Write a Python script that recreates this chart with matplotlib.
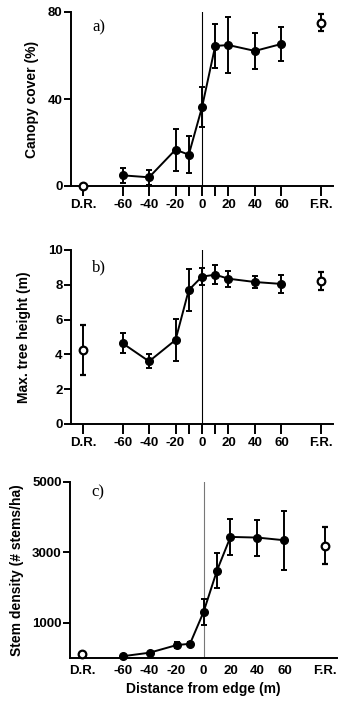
import matplotlib.pyplot as plt
import numpy as np

plt.rcParams.update({
    "font.family": ["Liberation Sans", "DejaVu Sans"],
    "font.weight": "bold",
    "axes.labelweight": "bold",
    "font.size": 9.5,
    "axes.linewidth": 1.4,
})

# --- Data ---
DR, FR = -90, 90
dist = [-60, -40, -20, -10, 0, 10, 20, 40, 60]
tick_pos = [DR, -60, -40, -20, 0, 20, 40, 60, FR]
tick_lab = ["D.R.", "-60", "-40", "-20", "0", "20", "40", "60", "F.R."]

canopy = [4.9, 4.0, 16.7, 14.4, 36.2, 64.4, 64.8, 62.1, 65.3]
canopy_err = [3.4, 3.5, 9.6, 8.5, 9.2, 10.0, 13.0, 8.2, 7.6]
canopy_dr, canopy_dr_err = 0.0, 0.0
canopy_fr, canopy_fr_err = 75.1, 3.9

height = [4.64, 3.60, 4.83, 7.70, 8.47, 8.58, 8.35, 8.16, 8.05]
height_err = [0.57, 0.40, 1.20, 1.23, 0.47, 0.55, 0.46, 0.36, 0.53]
height_dr, height_dr_err = 4.25, 1.43
height_fr, height_fr_err = 8.24, 0.52

stems = [50, 150, 366, 404, 1303, 2485, 3440, 3421, 3345]
stems_err = [0, 0, 85, 60, 360, 510, 520, 510, 835]
stems_dr, stems_dr_err = 100, 0
stems_fr, stems_fr_err = 3194, 520

W, H = 350, 714
fig = plt.figure(figsize=(W / 100, H / 100), dpi=100)


def add_axes(left, right, top, bottom):
    return fig.add_axes([left / W, 1 - bottom / H, (right - left) / W, (bottom - top) / H])


def panel(ax, y, yerr, ydr, ydr_err, yfr, yfr_err, ylim, yticks, ylabel, letter,
          letter_y, label_x, minor=True, vcolor="black"):
    ax.axvline(0, color=vcolor, lw=0.8, zorder=1)
    ax.errorbar(dist, y, yerr=yerr, color="black", marker="o", ms=5.5, lw=1.4,
                capsize=2.5, elinewidth=1.4, capthick=1.4, zorder=3, clip_on=False)
    for xv, yv, ev in [(DR, ydr, ydr_err), (FR, yfr, yfr_err)]:
        ax.errorbar([xv], [yv], yerr=[ev], color="black", marker="o", ms=5.5,
                    mfc="white", mew=1.6, capsize=2.5, elinewidth=1.4,
                    capthick=1.4, zorder=3, clip_on=False)
    ax.set_xlim(-99, 99)
    ax.set_ylim(*ylim)
    ax.set_yticks(yticks)
    ax.set_xticks(tick_pos)
    ax.set_xticklabels(tick_lab)
    if minor:
        ax.set_xticks([-10, 10], minor=True)
        ax.tick_params(axis="x", which="both", direction="out", length=7, width=1.4, pad=2)
    else:
        ax.tick_params(axis="x", length=0, pad=5)
    ax.tick_params(axis="y", direction="out", length=5, width=1.4, pad=1)
    for s in ["top", "right"]:
        ax.spines[s].set_visible(False)
    ax.set_ylabel(ylabel, fontsize=10)
    ax.yaxis.set_label_coords(label_x, 0.5)
    ax.text(0.08, letter_y, letter, transform=ax.transAxes, family="Liberation Serif",
            fontweight="normal", fontsize=12, va="center")


ax1 = add_axes(71, 333, 12, 186)
panel(ax1, canopy, canopy_err, canopy_dr, canopy_dr_err, canopy_fr, canopy_fr_err,
      (0, 80), [0, 40, 80], "Canopy cover (%)", "a)", 0.91, -0.122)

ax2 = add_axes(71, 333, 250, 424)
panel(ax2, height, height_err, height_dr, height_dr_err, height_fr, height_fr_err,
      (0, 10), [0, 2, 4, 6, 8, 10], "Max. tree height (m)", "b)", 0.90, -0.153)

ax3 = add_axes(70, 337, 482, 658)
panel(ax3, stems, stems_err, stems_dr, stems_dr_err, stems_fr, stems_fr_err,
      (0, 5000), [1000, 3000, 5000], "Stem density (# stems/ha)", "c)", 0.94, -0.172,
      minor=False, vcolor="#777777")
ax3.set_xlabel("Distance from edge (m)", fontsize=10, labelpad=4)

fig.savefig("out.png", dpi=100)
